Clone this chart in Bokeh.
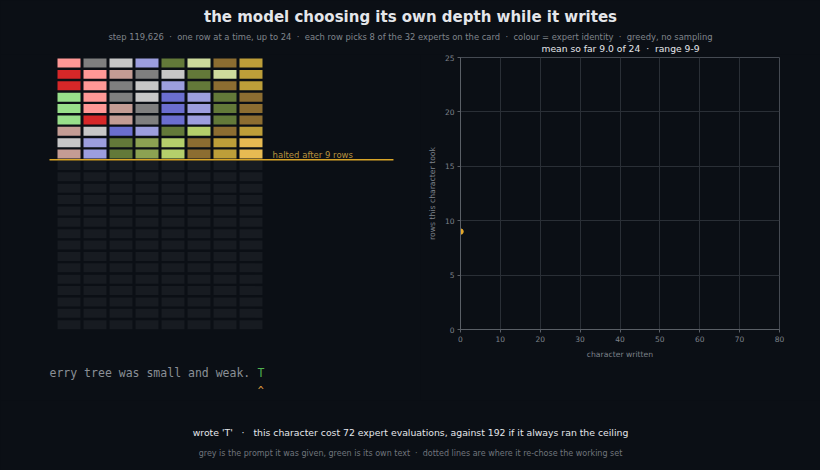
from bokeh.plotting import figure
from bokeh.models import Range1d, Label, ColumnDataSource
from bokeh.layouts import column, row
from bokeh.embed import file_html
from bokeh.resources import INLINE

BG = "#0b0f15"
EMPTY = "#171b21"
GOLD = "#d9a528"
SP = "\u00a0"

# 32 expert colours (tab20 then the first 12 of tab20b)
expert_palette = [
    "#1f77b4", "#aec7e8", "#ff7f0e", "#ffbb78", "#2ca02c", "#98df8a", "#d62728", "#ff9896",
    "#9467bd", "#c5b0d5", "#8c564b", "#c49c94", "#e377c2", "#f7b6d2", "#7f7f7f", "#c7c7c7",
    "#bcbd22", "#dbdb8d", "#17becf", "#9edae5", "#393b79", "#5254a3", "#6b6ecf", "#9c9ede",
    "#637939", "#8ca252", "#b5cf6b", "#cedb9c", "#8c6d31", "#bd9e39", "#e7ba52", "#e7cb94",
]

# experts picked on each row that ran (8 of 32)
rows_run = [
    [7, 14, 15, 23, 24, 27, 28, 29],
    [6, 7, 11, 14, 15, 24, 27, 29],
    [6, 7, 14, 15, 23, 24, 28, 29],
    [5, 7, 14, 15, 22, 23, 24, 28],
    [5, 7, 11, 14, 22, 23, 24, 28],
    [5, 6, 11, 14, 22, 23, 24, 28],
    [11, 15, 22, 23, 24, 26, 28, 29],
    [15, 23, 24, 25, 26, 28, 29, 30],
    [11, 23, 24, 25, 26, 28, 29, 30],
]
ceiling = 24
per_row = 8
step = "119,626"
prompt_tail = "erry tree was small and weak. "
written = "T"

# rows used per character written so far
char_index = [0]
char_rows = [9]

# grid cells
cols, rws, colours = [], [], []
for r in range(ceiling):
    for c in range(per_row):
        cols.append(c)
        rws.append(r)
        colours.append(expert_palette[rows_run[r][c]] if r < len(rows_run) else EMPTY)
grid_src = ColumnDataSource(dict(col=cols, row=rws, colour=colours))

FONT = "DejaVu Sans"
MONO = "DejaVu Sans Mono"


def dot(n):
    return SP * n + "\u00b7" + SP * n


def blank(w, h, xr, yr):
    f = figure(width=w, height=h, x_range=xr, y_range=yr, output_backend="svg",
               toolbar_location=None, x_axis_location=None, y_axis_location=None,
               min_border=0, background_fill_color=BG, border_fill_color=BG,
               outline_line_color=None)
    f.frame_align = False
    f.grid.visible = False
    return f


# header
head = blank(820, 54, Range1d(0, 820), Range1d(54, 0))
head.add_layout(Label(x=410, y=16, text="the model choosing its own depth while it writes",
                      text_align="center", text_baseline="middle", text_font=FONT,
                      text_font_style="bold", text_font_size="15px", text_color="#e4e6ea"))
sub = (f"step {step}{dot(2)}one row at a time, up to {ceiling}{dot(2)}each row picks {per_row} of the "
       f"{len(expert_palette)} experts on the card{dot(2)}colour = expert identity{dot(2)}greedy, no sampling")
head.add_layout(Label(x=410, y=36, text=sub, text_align="center", text_baseline="middle",
                      text_font=FONT, text_font_size="8.4px", text_color="#80858c"))
mean_rows = sum(char_rows) / len(char_rows)
head.add_layout(Label(x=620, y=47.5,
                      text=f"mean so far {mean_rows:.1f} of {ceiling}{dot(2)}range {min(char_rows)}-{max(char_rows)}",
                      text_align="center", text_baseline="middle", text_font=FONT,
                      text_font_size="9.2px", text_color="#e4e6ea"))

# left: the rows the model ran
left = blank(420, 346, Range1d(-2.635, 13.52), Range1d(29.66, -0.747))
left.rect(x="col", y="row", width=0.885, height=0.79, fill_color="colour",
          line_color=None, source=grid_src)
halt = len(rows_run) - 0.5
left.segment(x0=[-0.75], y0=[halt], x1=[12.48], y1=[halt], line_color=GOLD, line_width=1.5)
left.add_layout(Label(x=7.83, y=halt - 0.42, text=f"halted after {len(rows_run)} rows",
                      text_baseline="alphabetic", text_font=FONT, text_font_size="8.5px",
                      text_color="#b8923e"))
char_w = 6.93
left.add_layout(Label(x=-0.75, y=27.2, text=prompt_tail.replace(" ", SP), text_baseline="middle",
                      text_font=MONO, text_font_size="11.5px", text_color="#8a8f96"))
left.add_layout(Label(x=-0.75, x_offset=len(prompt_tail) * char_w, y=27.2, text=written,
                      text_baseline="middle", text_font=MONO, text_font_size="11.5px",
                      text_color="#4fb04f"))
left.add_layout(Label(x=-0.75, x_offset=len(prompt_tail) * char_w + char_w / 2, y=28.8, text="^",
                      text_align="center", text_baseline="middle", text_font=MONO,
                      text_font_size="10px", text_color="#e0a040"))

# right: rows per character
right = figure(width=400, height=346, x_range=Range1d(0, 80), y_range=Range1d(0, 25),
               output_backend="svg", toolbar_location=None,
               min_border_left=40, min_border_right=41, min_border_top=3, min_border_bottom=71,
               background_fill_color=BG, border_fill_color=BG, outline_line_color="#454a52",
               x_axis_label="character written", y_axis_label="rows this character took")
right.frame_align = False
right.xaxis.ticker = list(range(0, 81, 10))
right.yaxis.ticker = list(range(0, 26, 5))
for ax in right.axis:
    ax.axis_line_color = "#5a5f66"
    ax.major_tick_line_color = "#5a5f66"
    ax.major_tick_out = 3
    ax.major_tick_in = 0
    ax.minor_tick_line_color = None
    ax.major_label_text_color = "#7d828a"
    ax.major_label_text_font = FONT
    ax.major_label_text_font_size = "7.5px"
    ax.major_label_standoff = 3
    ax.axis_label_text_color = "#7d828a"
    ax.axis_label_text_font = FONT
    ax.axis_label_text_font_size = "7.7px"
    ax.axis_label_text_font_style = "normal"
    ax.axis_label_standoff = 5
right.grid.grid_line_color = "#2a2f36"
right.scatter(char_index, char_rows, size=5.5, color="#e5a82a")

# footer
foot = blank(820, 70, Range1d(0, 820), Range1d(70, 0))
cost = len(rows_run) * per_row
full = ceiling * per_row
foot.add_layout(Label(x=410, y=32,
                      text=f"wrote '{written}'{dot(3)}this character cost {cost} expert evaluations, "
                           f"against {full} if it always ran the ceiling",
                      text_align="center", text_baseline="middle", text_font=FONT,
                      text_font_size="9.3px", text_color="#e4e6ea"))
foot.add_layout(Label(x=410, y=53,
                      text=f"grey is the prompt it was given, green is its own text{dot(2)}"
                           f"dotted lines are where it re-chose the working set",
                      text_align="center", text_baseline="middle", text_font=FONT,
                      text_font_size="8px", text_color="#70757c"))

p = column(head, row(left, right), foot)
html = file_html(p, INLINE).replace("<body>", f'<body style="background:{BG}">')
open("out.html", "w").write(html)
